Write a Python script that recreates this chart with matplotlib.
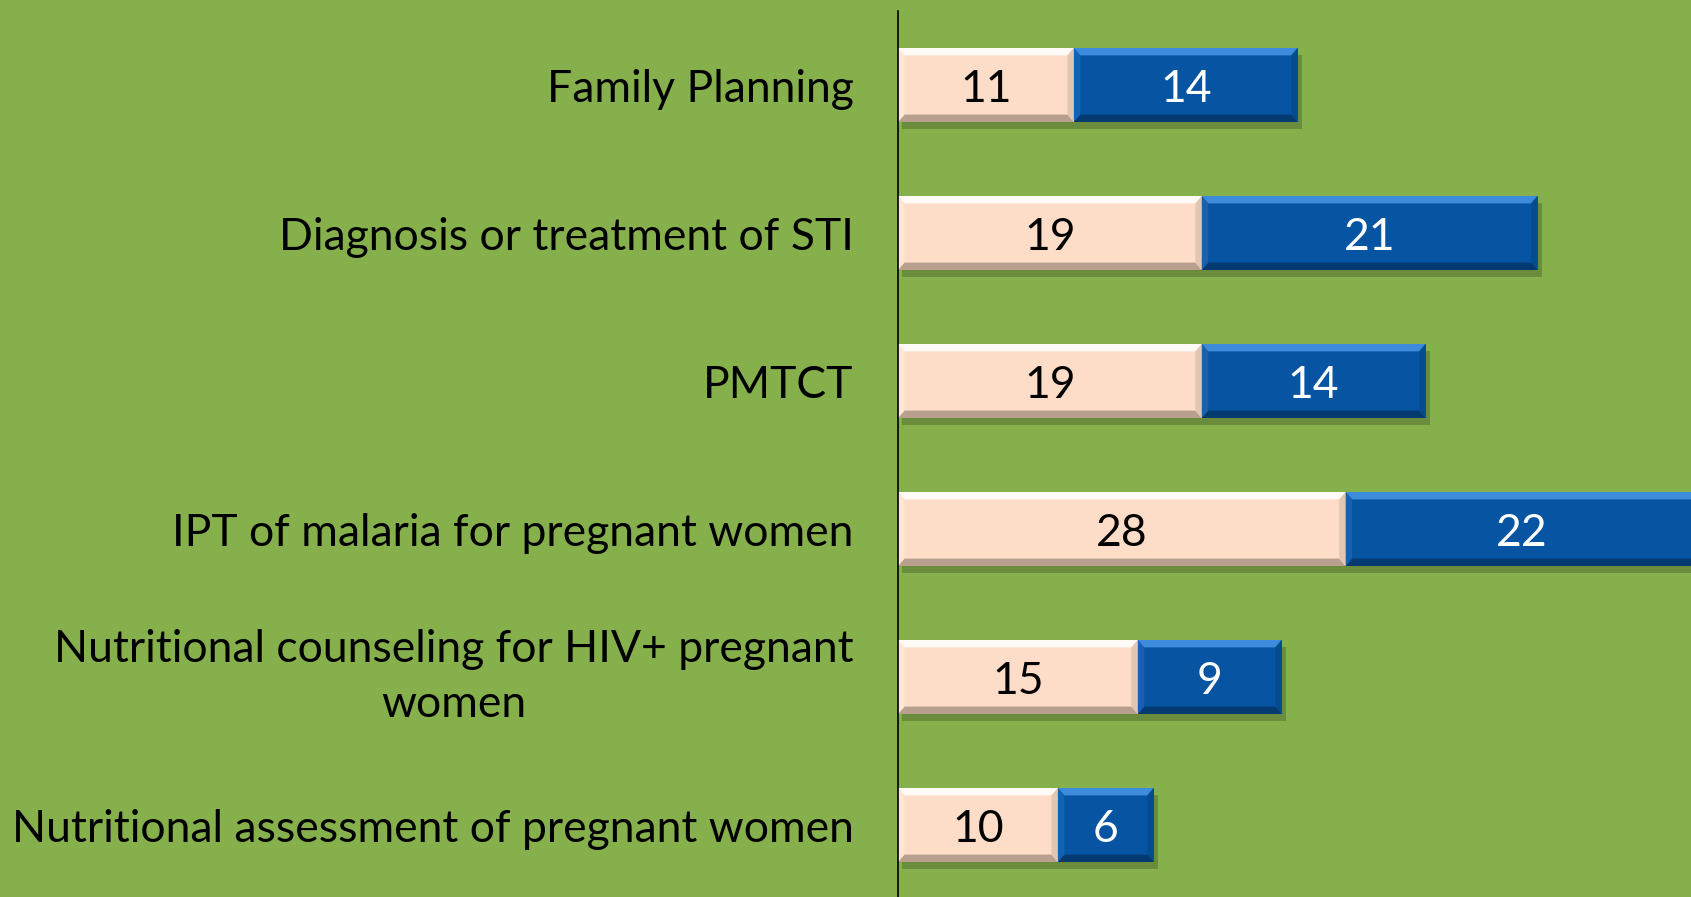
import matplotlib
matplotlib.use("Agg")
import matplotlib.pyplot as plt
import matplotlib.patheffects as pe
from matplotlib.patches import Polygon

categories = [
    "Family Planning",
    "Diagnosis or treatment of STI",
    "PMTCT",
    "IPT of malaria for pregnant women",
    "Nutritional counseling for HIV+ pregnant\nwomen",
    "Nutritional assessment of pregnant women",
]
series_a = [11, 19, 19, 28, 15, 10]
series_b = [14, 21, 14, 22, 9, 6]

GREEN = "#86B04C"
PINK = "#FDDCC8"
BLUE = "#0755A2"

plt.rcParams['font.family'] = ['Lato', 'DejaVu Sans']

W, H = 1691, 897
fig = plt.figure(figsize=(W / 100, H / 100), dpi=100, facecolor=GREEN)
ax = fig.add_axes([898 / W, -2 / H, (W - 898) / W, (901 - 13) / H])
ax.set_facecolor(GREEN)

y = list(range(len(categories)))
bh = 0.5
bars_a = ax.barh(y, series_a, height=bh, color=PINK, zorder=3)
bars_b = ax.barh(y, series_b, left=series_a, height=bh, color=BLUE, zorder=3)

for b in list(bars_a) + list(bars_b):
    b.set_path_effects([pe.SimplePatchShadow(offset=(3, -5), shadow_rgbFace='#3a4a20', alpha=0.35), pe.Normal()])

ax.set_xlim(0, 49.6)
ax.set_ylim(len(categories) - 0.5, -0.5)

# bevel edges
bx = 0.4
by = 0.05
def bevel(b, top, bottom, side_l, side_r):
    x0, w = b.get_x(), b.get_width()
    y0, h = b.get_y(), b.get_height()
    x1, y1 = x0 + w, y0 + h
    ax.add_patch(Polygon([(x0, y0), (x1, y0), (x1 - bx, y0 + by), (x0 + bx, y0 + by)], closed=True,
                         facecolor=top, edgecolor='none', zorder=4))
    ax.add_patch(Polygon([(x0, y1), (x1, y1), (x1 - bx, y1 - by), (x0 + bx, y1 - by)], closed=True,
                         facecolor=bottom, edgecolor='none', zorder=4))
    ax.add_patch(Polygon([(x0, y0), (x0 + bx, y0 + by), (x0 + bx, y1 - by), (x0, y1)], closed=True,
                         facecolor=side_l, edgecolor='none', zorder=4))
    ax.add_patch(Polygon([(x1, y0), (x1 - bx, y0 + by), (x1 - bx, y1 - by), (x1, y1)], closed=True,
                         facecolor=side_r, edgecolor='none', zorder=4))

for b in bars_a:
    bevel(b, '#FFFAF6', '#B9A08E', '#FEE6D8', '#E2C6B4')
for b in bars_b:
    bevel(b, '#3D8CDB', '#043A70', '#1463B2', '#054C8E')

FS = 32
for i in range(len(categories)):
    ax.text(series_a[i] / 2, y[i], str(series_a[i]), ha='center', va='center_baseline', fontsize=FS,
            color='black', zorder=5)
    ax.text(series_a[i] + series_b[i] / 2, y[i], str(series_b[i]), ha='center', va='center_baseline',
            fontsize=FS, color='white', zorder=5)

ax.set_yticks(y)
ax.set_yticklabels(categories, fontsize=FS, linespacing=1.45, multialignment='center')
for lbl in ax.get_yticklabels():
    if "\n" in lbl.get_text():
        lbl.set_va('center')
ax.tick_params(axis='y', length=0, pad=32)
ax.set_xticks([])
for s in ['top', 'right', 'bottom']:
    ax.spines[s].set_visible(False)
ax.spines['left'].set_color('black')
ax.spines['left'].set_linewidth(1.2)
ax.spines['left'].set_zorder(6)

fig.savefig("out.png", dpi=100, facecolor=GREEN)
